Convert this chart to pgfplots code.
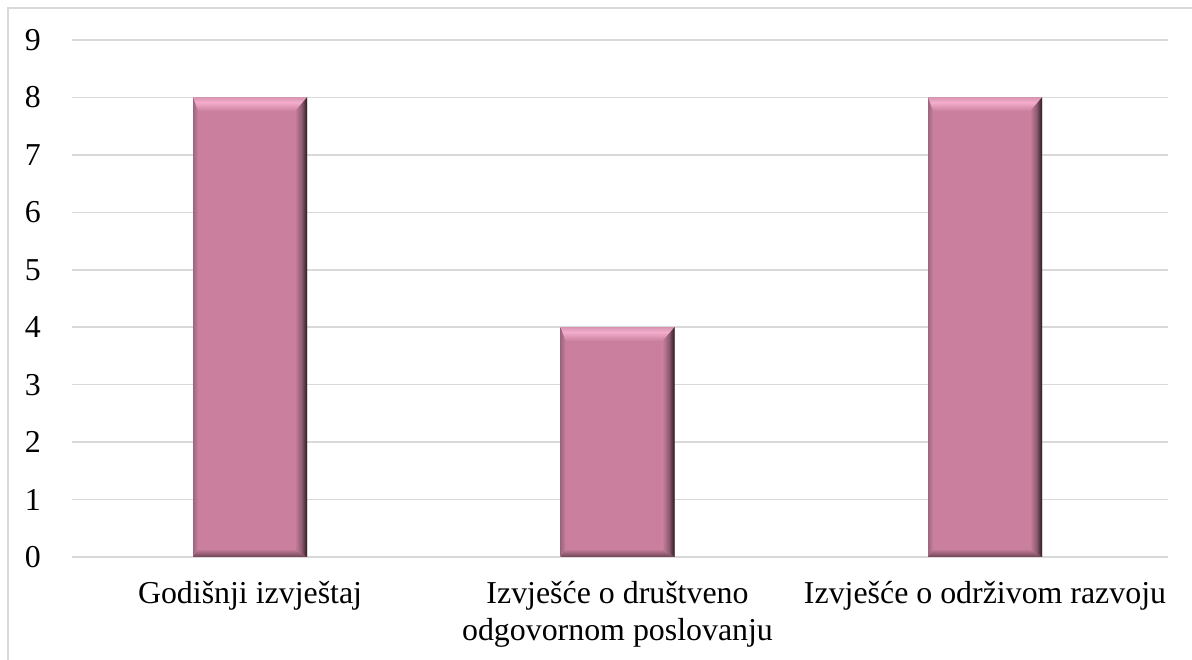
\documentclass[border=0pt]{standalone}
\usepackage{pgfplots}
\pgfplotsset{compat=1.18}
\usepackage{fontspec}
\setmainfont{Liberation Serif}
\definecolor{barc}{HTML}{C97F9D}
\definecolor{barHi}{HTML}{F4ADCC}
\definecolor{barTop}{HTML}{D996B3}
\definecolor{barR1}{HTML}{8E5B70}
\definecolor{barD}{HTML}{2A1A22}
\definecolor{barL}{HTML}{9A6680}
\definecolor{barB}{HTML}{6E4455}
\definecolor{gridc}{HTML}{D9D9D9}
\pgfdeclareverticalshading{bvtop}{100bp}{color(0bp)=(barc); color(25bp)=(barc); color(58bp)=(barHi); color(75bp)=(barTop); color(100bp)=(barTop)}
\pgfdeclarehorizontalshading{bvright}{100bp}{color(0bp)=(barc); color(25bp)=(barc); color(52bp)=(barR1); color(75bp)=(barD); color(100bp)=(barD)}
\pgfdeclarehorizontalshading{bvleft}{100bp}{color(0bp)=(barL); color(25bp)=(barL); color(75bp)=(barc); color(100bp)=(barc)}
\pgfdeclareverticalshading{bvbot}{100bp}{color(0bp)=(barB); color(25bp)=(barB); color(75bp)=(barc); color(100bp)=(barc)}
% bevel edges of one bar: #1 left, #2 right, #3 inner left, #4 inner right, #5 top, #6 inner top
\newcommand\bevelbar[6]{%
\addplot[sharp plot, draw=none, shade, shading=bvtop] coordinates {(#1,#5) (#2,#5) (#4,#6) (#3,#6)};
\addplot[sharp plot, draw=none, shade, shading=bvleft] coordinates {(#1,#5) (#3,#6) (#3,0.139) (#1,0)};
\addplot[sharp plot, draw=none, shade, shading=bvbot] coordinates {(#1,0) (#3,0.139) (#4,0.139) (#2,0)};
\addplot[sharp plot, draw=none, shade, shading=bvright] coordinates {(#2,#5) (#2,0) (#4,0.139) (#4,#6)};
}
\begin{document}
\fontsize{32}{37}\selectfont
\begin{tikzpicture}[x=1bp,y=1bp]
\path[use as bounding box] (0,0) rectangle (1192,660);
\draw[gridc, line width=1.5bp] (8,0) -- (8,652) -- (1192,652);
\begin{axis}[
  at={(72bp,103bp)}, anchor=south west,
  scale only axis, width=1096bp, height=517bp,
  xmin=-0.4844, xmax=2.498, ymin=0, ymax=9,
  ytick={0,1,...,9}, xtick={0,1,2},
  xticklabels={Godišnji izvještaj, {Izvješće o društveno\\odgovornom poslovanju}, Izvješće o održivom razvoju},
  /pgf/number format/assume math mode=true,
  ymajorgrids, grid style={gridc, line width=1.5bp},
  axis line style={draw=none}, major tick length=0pt,
  tick style={draw=none},
  ticklabel style={font=\fontsize{32}{37}\selectfont, inner sep=0pt},
  yticklabel style={anchor=east, xshift=-31bp},
  xticklabel style={anchor=north, yshift=-24bp, align=center},
  ybar, bar width=114bp, bar shift=0pt,
  clip=false,
]
\addplot[draw=none, fill=barc] coordinates {(0,8) (1,4) (2,8)};
\bevelbar{-0.1551}{0.1551}{-0.1415}{0.1224}{8}{7.7563}
\bevelbar{0.8449}{1.1551}{0.8585}{1.1224}{4}{3.7563}
\bevelbar{1.8449}{2.1551}{1.8585}{2.1224}{8}{7.7563}
\end{axis}
\end{tikzpicture}
\end{document}
